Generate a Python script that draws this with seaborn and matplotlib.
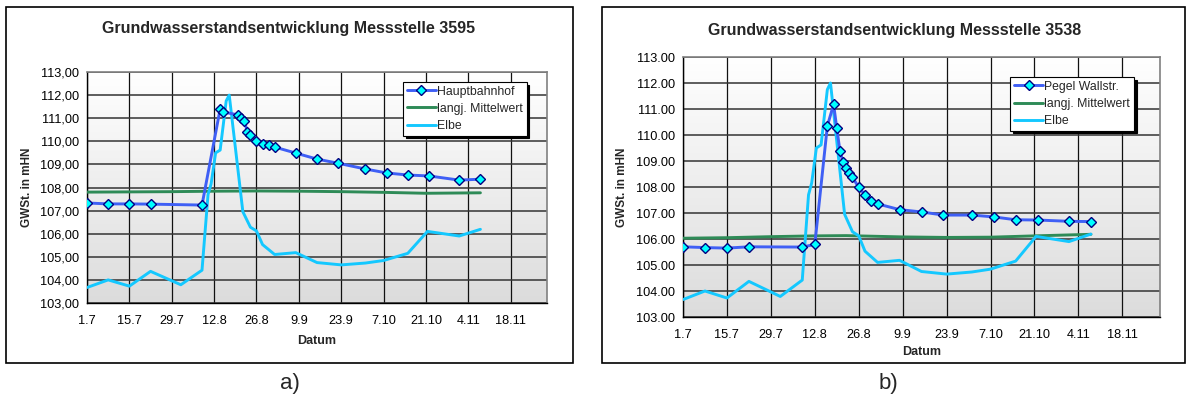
import matplotlib
matplotlib.use('Agg')
import matplotlib.pyplot as plt
import numpy as np
import pandas as pd
import seaborn as sns
from matplotlib.patches import Rectangle
from matplotlib.ticker import MultipleLocator
from matplotlib.lines import Line2D

# x values: days since 1.7.
x_tick_days = [0, 14, 28, 42, 56, 70, 84, 98, 112, 126, 140]
x_tick_labels = ['1.7', '15.7', '29.7', '12.8', '26.8', '9.9', '23.9', '7.10', '21.10', '4.11', '18.11']
y_ticks = [103, 104, 105, 106, 107, 108, 109, 110, 111, 112, 113]

# Messstelle 3595 - Hauptbahnhof
hbf_days = [0, 7, 14, 21, 38, 44, 45, 50, 51, 52, 53, 54, 56, 58, 60, 62,
            69, 76, 83, 92, 99, 106, 113, 123, 130]
hbf_vals = [107.33, 107.29, 107.29, 107.28, 107.24, 111.40, 111.27, 111.14, 111.00,
            110.88, 110.40, 110.27, 110.00, 109.88, 109.84, 109.75, 109.49, 109.23,
            109.05, 108.80, 108.63, 108.54, 108.50, 108.32, 108.36]
mean_a_days = [0, 14, 28, 42, 56, 70, 84, 98, 112, 130]
mean_a_vals = [107.80, 107.81, 107.82, 107.84, 107.85, 107.84, 107.82, 107.79, 107.75, 107.77]

# Messstelle 3538 - Pegel Wallstr.
wall_days = [0, 7, 14, 21, 38, 42, 46, 48, 49, 50, 51, 52, 53, 54, 56, 58, 60, 62,
             69, 76, 83, 92, 99, 106, 113, 123, 130]
wall_vals = [105.70, 105.67, 105.65, 105.70, 105.69, 105.79, 110.35, 111.18, 110.26,
             109.40, 108.95, 108.74, 108.55, 108.37, 107.99, 107.70, 107.47, 107.35,
             107.13, 107.04, 106.92, 106.92, 106.85, 106.74, 106.73, 106.68, 106.67]
mean_b_days = [0, 14, 28, 42, 52, 70, 84, 98, 112, 130]
mean_b_vals = [106.03, 106.05, 106.09, 106.12, 106.13, 106.08, 106.06, 106.07, 106.12, 106.18]

# Elbe (same in both charts)
elbe_days = [0, 7, 14, 21, 31, 38, 40, 41, 42.5, 44, 46, 47, 51.5, 54, 56, 58, 62,
             69, 76, 84, 92, 98, 106, 112.5, 123, 130]
elbe_vals = [103.67, 104.00, 103.73, 104.37, 103.79, 104.42, 107.70, 108.15, 109.50,
             109.62, 111.75, 112.00, 106.95, 106.28, 106.12, 105.53, 105.10, 105.18,
             104.75, 104.65, 104.73, 104.84, 105.15, 106.10, 105.90, 106.19]

sns.set_style('white')
plt.rcParams['font.family'] = ['Liberation Sans', 'DejaVu Sans']

W, H = 1188, 398
fig = plt.figure(figsize=(W / 100, H / 100), dpi=100)

c_well = '#3f5ff5'
c_mean = '#2e8b57'
c_elbe = '#14c8ff'


def fbox(x0, y0, x1, y1):
  # pixel box -> figure fraction [left, bottom, width, height]
  return [x0 / W, 1 - y1 / H, (x1 - x0) / W, (y1 - y0) / H]


def draw_panel(rect, well_name, well_days, well_vals, mean_days, mean_vals, comma, leg_anchor):
  ax = fig.add_axes(fbox(*rect))
  # gradient background
  grad = np.linspace(0, 1, 256).reshape(-1, 1)
  ax.imshow(grad, extent=[0, 1, 0, 1], transform=ax.transAxes, aspect='auto',
            cmap=matplotlib.colors.LinearSegmentedColormap.from_list('g', ['#dcdcdc', '#ffffff']),
            origin='lower', zorder=0)

  sns.lineplot(x=mean_days, y=mean_vals, ax=ax, color=c_mean, linewidth=2.1, zorder=3)
  sns.lineplot(x=elbe_days, y=elbe_vals, ax=ax, color=c_elbe, linewidth=2.1, zorder=4)
  sns.lineplot(x=well_days, y=well_vals, ax=ax, color=c_well, linewidth=2.1, zorder=5,
               marker='D', markersize=5, markerfacecolor='#00ffff', markeredgecolor='#000080',
               markeredgewidth=1.0)

  ax.set_xlim(0, 152)
  ax.set_ylim(103, 113)
  ax.set_xticks(x_tick_days)
  ax.set_xticklabels(x_tick_labels)
  ax.set_yticks(y_ticks)
  if comma:
    ax.set_yticklabels([f'{v:.2f}'.replace('.', ',') for v in y_ticks])
  else:
    ax.set_yticklabels([f'{v:.2f}' for v in y_ticks])
  ax.xaxis.set_minor_locator(MultipleLocator(1))
  ax.yaxis.set_minor_locator(MultipleLocator(0.1))
  ax.tick_params(which='major', direction='inout', length=6, width=1, labelsize=9.2,
                 colors='black', pad=3)
  ax.tick_params(which='minor', direction='in', length=3, width=0.6, colors='black')
  ax.tick_params(axis='x', which='major', pad=6)
  ax.grid(True, which='major', axis='x', color='#111111', linewidth=0.9, zorder=1)
  ax.grid(True, which='major', axis='y', color='#333333', linewidth=1.1, zorder=1)
  ax.set_axisbelow(True)
  for s in ['top', 'right']:
    ax.spines[s].set_color('#808080')
    ax.spines[s].set_linewidth(1.2)
  for s in ['left', 'bottom']:
    ax.spines[s].set_color('black')
    ax.spines[s].set_linewidth(1.0)
  ax.set_xlabel('')
  ax.set_ylabel('')

  handles = [
    Line2D([], [], color=c_well, lw=2.1, marker='D', markersize=5,
           markerfacecolor='#00ffff', markeredgecolor='#000080'),
    Line2D([], [], color=c_mean, lw=2.1),
    Line2D([], [], color=c_elbe, lw=2.1),
  ]
  leg = ax.legend(handles, [well_name, 'langj. Mittelwert', 'Elbe'], loc='upper left',
                  bbox_to_anchor=leg_anchor, fontsize=8.8, frameon=True, fancybox=False,
                  shadow={'color': 'black', 'alpha': 1.0}, edgecolor='black',
                  framealpha=1, handlelength=2.4, handletextpad=0.1, borderpad=0.3,
                  labelspacing=0.42, borderaxespad=0)
  leg.get_frame().set_linewidth(0.8)
  leg.set_zorder(10)
  return ax


# panel frames
for x0, x1 in [(6, 573), (602, 1185)]:
  fig.patches.append(Rectangle((x0 / W, 1 - 363 / H), (x1 - x0) / W, 356 / H,
                               transform=fig.transFigure, fill=False,
                               edgecolor='black', linewidth=1.2))

draw_panel((87, 72, 547, 303), 'Hauptbahnhof', hbf_days, hbf_vals,
           mean_a_days, mean_a_vals, True, (0.687, 0.957))
draw_panel((683, 57, 1160, 317), 'Pegel Wallstr.', wall_days, wall_vals,
           mean_b_days, mean_b_vals, False, (0.686, 0.923))


# titles and labels in pixel positions
def ftext(x, y, s, **kw):
  fig.text(x / W, 1 - y / H, s, **kw)


ftext(289, 29, 'Grundwasserstandsentwicklung Messstelle 3595', ha='center', va='center',
      fontsize=11.5, fontweight='bold')
ftext(895, 30, 'Grundwasserstandsentwicklung Messstelle 3538', ha='center', va='center',
      fontsize=11.5, fontweight='bold')
ftext(27, 187, 'GWSt. in mHN', ha='center', va='center', rotation=90, fontsize=8.5,
      fontweight='bold')
ftext(622, 187, 'GWSt. in mHN', ha='center', va='center', rotation=90, fontsize=8.5,
      fontweight='bold')
ftext(317, 341, 'Datum', ha='center', va='center', fontsize=9, fontweight='bold')
ftext(922, 352, 'Datum', ha='center', va='center', fontsize=9, fontweight='bold')
ftext(290, 384, 'a)', ha='center', va='center', fontsize=16)
ftext(888, 384, 'b)', ha='center', va='center', fontsize=16)

fig.savefig('out.png', dpi=100)
